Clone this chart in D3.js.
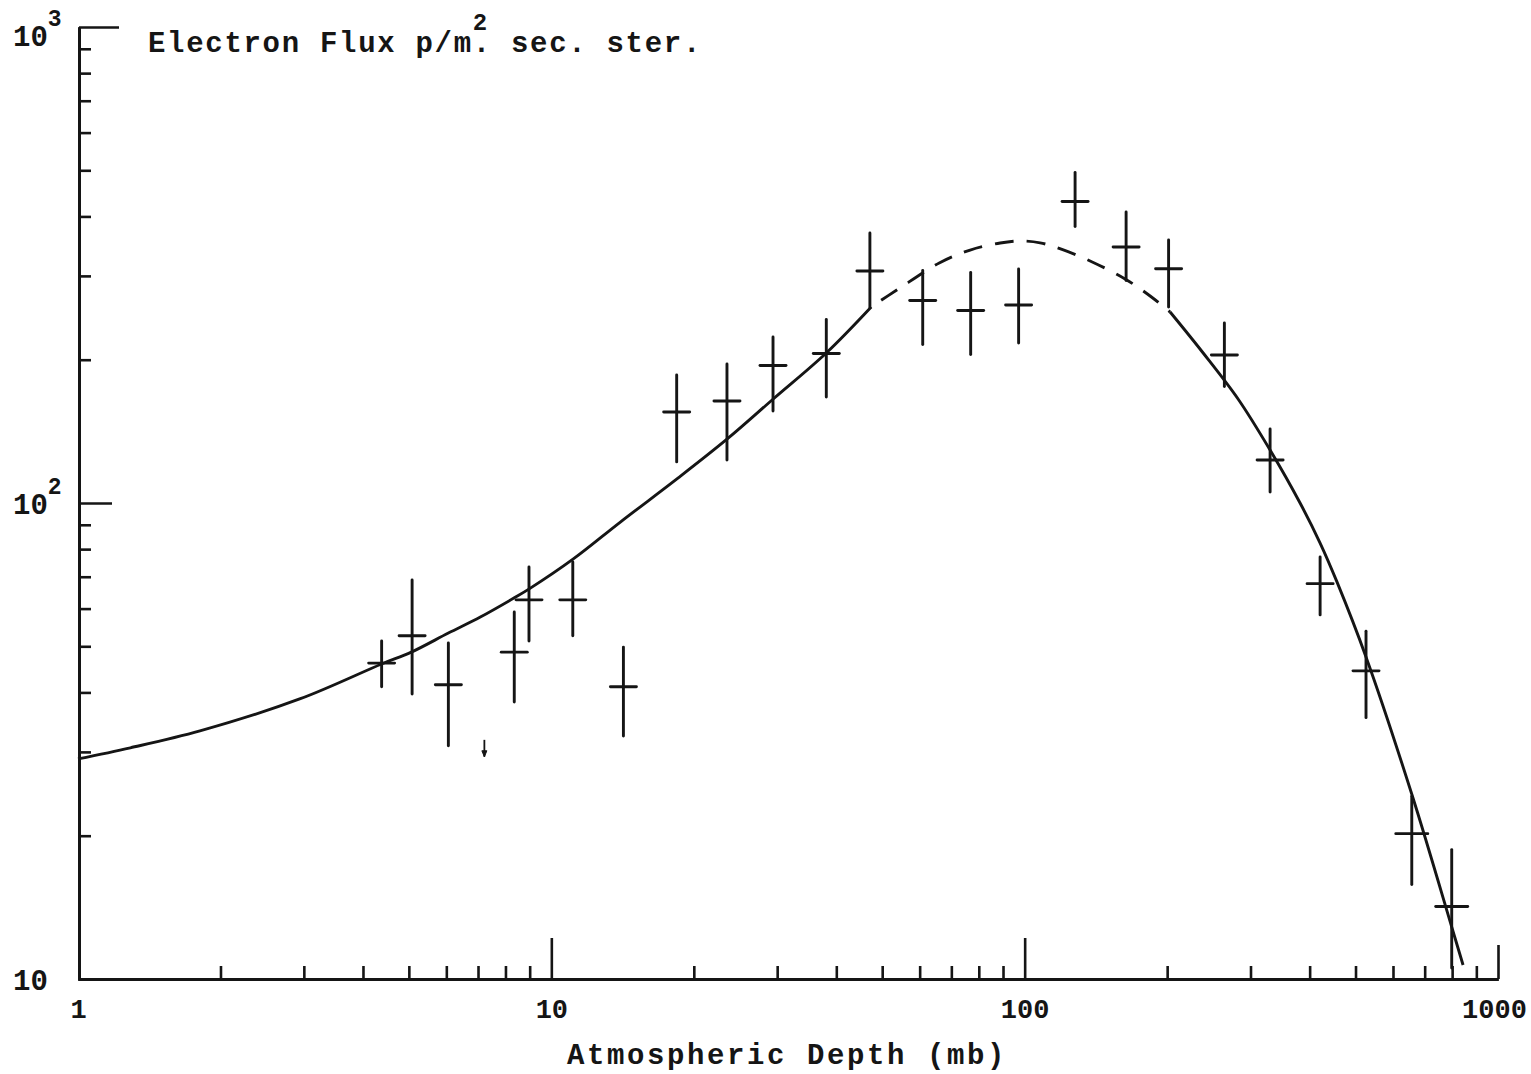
<!DOCTYPE html>
<html>
<head>
<meta charset="utf-8">
<script src="https://cdn.jsdelivr.net/npm/d3@7"></script>
<style>
  html, body { margin: 0; background: #fff; }
  svg { display: block; }
  text { font-family: "Liberation Mono", "Courier New", monospace; fill: #151515; }
</style>
</head>
<body>
<svg id="chart" width="1531" height="1074"></svg>
<script>
// Electron flux measurements versus atmospheric depth (mb), with flux error ranges
const depth  = [4.38, 5.08, 6.06, 8.35, 8.97, 11.1, 14.2, 18.4, 23.5, 29.4, 38.1, 47.1,
                60.9, 76.9, 97.1, 127.8, 163.8, 201.4, 264.2, 330.0, 420.9, 526.2, 657.4, 798.4];
const flux   = [46.1, 52.6, 41.5, 48.6, 62.6, 62.6, 41.1, 155.3, 163.8, 194.5, 206.1, 307.2,
                266.4, 253.7, 260.6, 429.9, 345.0, 310.5, 204.6, 123.1, 67.7, 44.4, 20.2, 14.2];
const fluxLo = [41.1, 39.7, 30.9, 38.2, 51.3, 52.6, 32.4, 122.0, 123.1, 156.1, 167.0, 257.5,
                215.3, 205.1, 216.9, 380.9, 293.4, 258.1, 175.6, 105.5, 58.2, 35.4, 15.8, 10.55];
const fluxHi = [51.3, 68.9, 50.8, 59.0, 73.4, 75.2, 49.8, 185.8, 195.9, 223.2, 243.0, 369.2,
                307.9, 304.9, 310.1, 494.7, 408.7, 356.9, 238.9, 143.0, 77.0, 53.8, 24.2, 18.7];

// Upper-limit marker
const limitDepth = [7.22];
const limitTop   = [31.8];
const limitBot   = [29.3];

// Fitted curve: solid (low depth), dashed (around the maximum), solid (high depth)
const fitLowDepth  = [1.0, 1.29, 1.81, 2.95, 4.38, 5.06, 6.06, 7.08, 8.35, 8.98, 11.13, 13.99, 18.54, 23.53, 29.43, 38.09, 47.4];
const fitLowFlux   = [29.0, 30.6, 33.2, 38.8, 45.9, 48.6, 53.3, 57.6, 63.2, 66.0, 76.3, 91.2, 112.9, 136.3, 165.4, 206.6, 258.1];
const fitMidDepth  = [47.4, 54.1, 66.0, 76.7, 88.8, 97.8, 107.8, 119.5, 138.9, 163.0, 184.1, 202.9];
const fitMidFlux   = [258.1, 281.6, 319.3, 340.0, 351.8, 355.2, 352.0, 341.5, 320.9, 295.6, 272.2, 251.9];
const fitHighDepth = [202.9, 238.3, 282.4, 330.0, 381.8, 420.9, 457.1, 526.2, 658.3, 799.6, 843.7];
const fitHighFlux  = [251.9, 206.6, 165.4, 129.2, 100.0, 82.4, 68.2, 47.5, 24.35, 12.8, 10.7];

// Axis ticks and labels
const xMinorTicks = [2,3,4,5,6,7,8,9, 20,30,40,50,60,70,80,90, 200,300,400,500,600,700,800,900];
const xMajorTicks = [10, 100];
const xEndTick    = [1000];
const xTickLabels = [1, 10, 100, 1000];
const yMinorTicks = [20,30,40,50,60,70,80,90, 200,300,400,500,600,700,800,900];
const yTickLabels = [10, 100, 1000];

const titleText  = "Electron Flux p/m. sec. ster.";
const xAxisTitle = "Atmospheric Depth (mb)";

const svg = d3.select("#chart");
const ink = "#151515";
const lw = 2.9;

const x = d3.scaleLog().domain([1, 1000]).range([78, 1498]);
const y = d3.scaleLog().domain([10, 1000]).range([979, 27]);

const x0 = x.range()[0];
const y0 = y.range()[0];

function styleAxis(g) {
  g.selectAll("path.domain").attr("stroke", ink).attr("stroke-width", lw);
  g.selectAll(".tick line").attr("stroke", ink).attr("stroke-width", 2.6);
  g.selectAll(".tick text").remove();
}

// X axis: minor ticks, decade ticks, end tick (all pointing up into the plot)
svg.append("g").attr("transform", `translate(0,${y0})`)
  .call(d3.axisBottom(x).tickValues(xMinorTicks).tickSizeInner(-13).tickSizeOuter(0).tickFormat(""))
  .call(styleAxis);
svg.append("g").attr("transform", `translate(0,${y0})`)
  .call(d3.axisBottom(x).tickValues(xMajorTicks).tickSizeInner(-41).tickSizeOuter(0).tickFormat(""))
  .call(styleAxis);
svg.append("g").attr("transform", `translate(0,${y0})`)
  .call(d3.axisBottom(x).tickValues(xEndTick).tickSizeInner(-34).tickSizeOuter(0).tickFormat(""))
  .call(styleAxis);

// X tick labels
const xl = svg.append("g").attr("transform", `translate(0,${y0})`)
  .call(d3.axisBottom(x).tickValues(xTickLabels).tickSize(0).tickPadding(20).tickFormat(d3.format("d")));
xl.select("path.domain").remove();
xl.selectAll(".tick text")
  .attr("font-family", "'Liberation Mono', 'Courier New', monospace")
  .attr("font-size", 27).attr("font-weight", "bold").attr("fill", ink)
  .attr("dy", "0.71em")
  .attr("dx", d => d === 1000 ? -4 : 0);

// Y axis: minor ticks and decade ticks pointing right
svg.append("g").attr("transform", `translate(${x0 + 1},0)`)
  .call(d3.axisRight(y).tickValues(yMinorTicks).tickSizeInner(12).tickSizeOuter(0).tickFormat(""))
  .call(styleAxis);
svg.append("g").attr("transform", `translate(${x0 + 1},0)`)
  .call(d3.axisRight(y).tickValues([100]).tickSizeInner(33).tickSizeOuter(0).tickFormat(""))
  .call(styleAxis);
svg.append("g").attr("transform", `translate(${x0 + 1},0)`)
  .call(d3.axisRight(y).tickValues([1000]).tickSizeInner(40).tickSizeOuter(0).tickFormat(""))
  .call(styleAxis);

// Y tick labels as powers of ten (the top one sits a little below its tick)
yTickLabels.forEach(v => {
  const e = Math.round(Math.log10(v));
  const t = svg.append("text")
    .attr("x", 13).attr("y", e === 3 ? y(v) + 19 : y(v) + 11)
    .attr("font-size", 29).attr("font-weight", "bold");
  t.append("tspan").text("10");
  if (e > 1) {
    t.append("tspan").attr("dy", -20).attr("font-size", 23).text(String(e));
  }
});

// Fitted curve
const line = d3.line()
  .x(d => x(d[0]))
  .y(d => y(d[1]))
  .curve(d3.curveCatmullRom.alpha(0.5));

const zip = (a, b) => a.map((v, i) => [v, b[i]]);

svg.append("path").datum(zip(fitLowDepth, fitLowFlux))
  .attr("d", line).attr("fill", "none").attr("stroke", ink).attr("stroke-width", lw);
svg.append("path").datum(zip(fitMidDepth, fitMidFlux))
  .attr("d", line).attr("fill", "none").attr("stroke", ink).attr("stroke-width", lw)
  .attr("stroke-dasharray", "19 13").attr("stroke-dashoffset", -12);
svg.append("path").datum(zip(fitHighDepth, fitHighFlux))
  .attr("d", line).attr("fill", "none").attr("stroke", ink).attr("stroke-width", lw);

// Error crosses
const pts = depth.map((d, i) => ({ d, f: flux[i], lo: fluxLo[i], hi: fluxHi[i] }));
const cross = svg.append("g").attr("stroke", ink).attr("stroke-width", lw).attr("stroke-linecap", "round");
cross.selectAll("line.v").data(pts).join("line").attr("class", "v")
  .attr("x1", p => x(p.d)).attr("x2", p => x(p.d))
  .attr("y1", p => y(p.hi)).attr("y2", p => y(p.lo));
cross.selectAll("line.h").data(pts).join("line").attr("class", "h")
  .attr("x1", p => x(p.d) - (p.d > 600 ? 16 : 13))
  .attr("x2", p => x(p.d) + (p.d > 600 ? 16 : 13))
  .attr("y1", p => y(p.f)).attr("y2", p => y(p.f));

// Upper-limit arrow
limitDepth.forEach((d, i) => {
  const cx = x(d), yt = y(limitTop[i]), yb = y(limitBot[i]);
  svg.append("line").attr("x1", cx).attr("x2", cx).attr("y1", yt).attr("y2", yb)
    .attr("stroke", ink).attr("stroke-width", 1.8);
  svg.append("path").attr("d", `M${cx - 2.5},${yb - 6}L${cx},${yb}L${cx + 2.5},${yb - 6}Z`)
    .attr("fill", ink).attr("stroke", ink).attr("stroke-width", 1);
});

// Title with the superscript placed over the period after "m"
const title = svg.append("text")
  .attr("x", 148).attr("y", 52)
  .attr("font-size", 29).attr("font-weight", "bold").attr("letter-spacing", 1.7)
  .text(titleText);
const dotIndex = titleText.indexOf("m.") + 1;
const dotPos = title.node().getStartPositionOfChar(dotIndex);
svg.append("text")
  .attr("x", dotPos.x).attr("y", 30)
  .attr("font-size", 24).attr("font-weight", "bold")
  .text("2");

// X axis title
svg.append("text")
  .attr("x", 787).attr("y", 1064).attr("text-anchor", "middle")
  .attr("font-size", 29).attr("font-weight", "bold").attr("letter-spacing", 2.6)
  .text(xAxisTitle);
</script>
</body>
</html>
